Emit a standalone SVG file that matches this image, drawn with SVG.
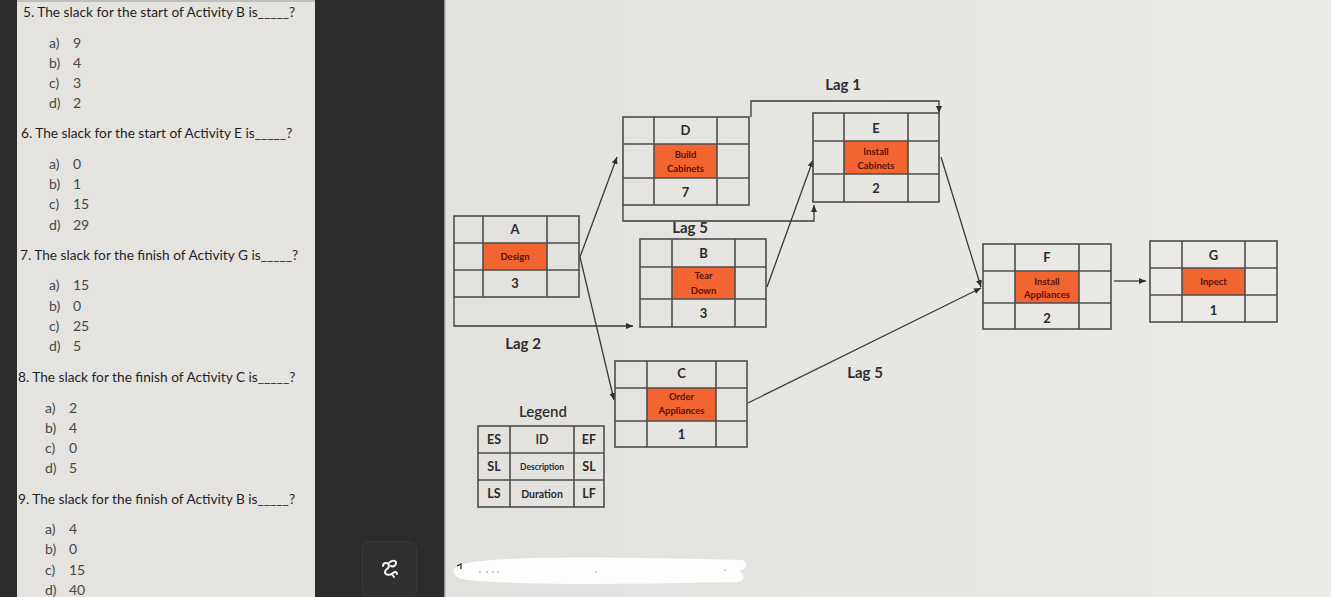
<svg xmlns="http://www.w3.org/2000/svg" width="1331" height="597" viewBox="0 0 1331 597">
<defs>
<linearGradient id="bgR" x1="0" y1="0" x2="1" y2="0">
<stop offset="0" stop-color="#e2e1dd"/>
<stop offset="1" stop-color="#ecebe8"/>
</linearGradient>
<marker id="ah" markerWidth="8" markerHeight="8" refX="7" refY="4" orient="auto" markerUnits="userSpaceOnUse">
<path d="M0,1 L7,4 L0,7 Z" fill="#2e2e2e"/>
</marker>
<style>
.q{font-family:Lato,"Liberation Sans",sans-serif;font-size:13.7px;fill:#1f1f1f}
.o{font-family:Lato,"Liberation Sans",sans-serif;font-size:14px;fill:#474747}
.box{fill:none;stroke:#4d4d4d;stroke-width:1.6}
.grid{fill:none;stroke:#4d4d4d;stroke-width:1.6}
.hl{fill:#f26430}
.id{font-family:Lato,"Liberation Sans",sans-serif;font-size:13px;font-weight:bold;fill:#2a2a2a;text-anchor:middle}
.desc{font-family:Lato,"Liberation Sans",sans-serif;font-size:9.5px;font-weight:bold;fill:#5a1208;text-anchor:middle}
.lag{font-family:Lato,"Liberation Sans",sans-serif;font-size:15px;font-weight:bold;fill:#2f2f2f;text-anchor:middle}
.lg{font-family:Lato,"Liberation Sans",sans-serif;font-size:12.5px;font-weight:bold;fill:#2a2a2a;text-anchor:middle}
.conn{fill:none;stroke:#3a3a3a;stroke-width:1.3}
</style>
</defs>

<!-- backgrounds -->
<rect x="0" y="0" width="1331" height="597" fill="#2b2c2b"/>
<rect x="17" y="0" width="298" height="597" fill="#e4e3df"/>
<line x1="17" y1="1" x2="315" y2="1" stroke="#9a9a98" stroke-width="1"/>
<rect x="445" y="0" width="886" height="597" fill="url(#bgR)"/>
<line x1="445" y1="0" x2="445" y2="597" stroke="#b9b8b4" stroke-width="1.5"/>

<!-- left question panel -->
<g id="questions">
<text class="q" x="23" y="17">5. The slack for the start of Activity B is_____?</text>
<text class="o" y="48"><tspan x="49">a)</tspan><tspan x="73">9</tspan></text>
<text class="o" y="68"><tspan x="49">b)</tspan><tspan x="73">4</tspan></text>
<text class="o" y="88"><tspan x="49">c)</tspan><tspan x="73">3</tspan></text>
<text class="o" y="108"><tspan x="49">d)</tspan><tspan x="73">2</tspan></text>

<text class="q" x="21" y="138">6. The slack for the start of Activity E is_____?</text>
<text class="o" y="169"><tspan x="49">a)</tspan><tspan x="73">0</tspan></text>
<text class="o" y="189"><tspan x="49">b)</tspan><tspan x="73">1</tspan></text>
<text class="o" y="209"><tspan x="49">c)</tspan><tspan x="73">15</tspan></text>
<text class="o" y="230"><tspan x="49">d)</tspan><tspan x="73">29</tspan></text>

<text class="q" x="20" y="260">7. The slack for the finish of Activity G is_____?</text>
<text class="o" y="290"><tspan x="49">a)</tspan><tspan x="73">15</tspan></text>
<text class="o" y="311"><tspan x="49">b)</tspan><tspan x="73">0</tspan></text>
<text class="o" y="331"><tspan x="49">c)</tspan><tspan x="73">25</tspan></text>
<text class="o" y="351"><tspan x="49">d)</tspan><tspan x="73">5</tspan></text>

<text class="q" x="18" y="382">8. The slack for the finish of Activity C is_____?</text>
<text class="o" y="413"><tspan x="45">a)</tspan><tspan x="69">2</tspan></text>
<text class="o" y="433"><tspan x="45">b)</tspan><tspan x="69">4</tspan></text>
<text class="o" y="453"><tspan x="45">c)</tspan><tspan x="69">0</tspan></text>
<text class="o" y="473"><tspan x="45">d)</tspan><tspan x="69">5</tspan></text>

<text class="q" x="18" y="504">9. The slack for the finish of Activity B is_____?</text>
<text class="o" y="534"><tspan x="45">a)</tspan><tspan x="69">4</tspan></text>
<text class="o" y="554"><tspan x="45">b)</tspan><tspan x="69">0</tspan></text>
<text class="o" y="575"><tspan x="45">c)</tspan><tspan x="69">15</tspan></text>
<text class="o" y="595"><tspan x="45">d)</tspan><tspan x="69">40</tspan></text>
</g>

<!-- icon in dark area -->
<g id="icon">
<rect x="362" y="542" width="55" height="54" rx="7" fill="#2f302f" stroke="#3a3b3a"/>
<path d="M383 566 c0-4 6-4 6 0 c0 3-4 3-4 6 c0 3 5 4 8 1 c2-2 4-1 4 1 M389 563 c2-3 7-3 7 0 c0 3-3 4-5 3 M392 574 l2 3" fill="none" stroke="#f2f2f2" stroke-width="2" stroke-linecap="round"/>
</g>

<!-- white smear -->
<g id="smear">
<path d="M458 566 C470 556 600 556 742 560 C749 562 747 569 739 571 C746 575 745 582 735 582 C600 585 500 585 462 579 C452 576 451 569 458 566 Z" fill="#fdfdfd"/>
<path d="M457 566 l4 -2 l0 5" fill="none" stroke="#222" stroke-width="1.2"/>
<g fill="#888"><circle cx="480" cy="572" r="0.8"/><circle cx="487" cy="572" r="0.8"/><circle cx="493" cy="572" r="0.8"/><circle cx="498" cy="572" r="0.8"/><circle cx="596" cy="572" r="0.7"/><circle cx="725" cy="570" r="0.7"/></g>
</g>

<!-- connectors -->
<g id="connectors">
<line class="conn" x1="580" y1="257" x2="617" y2="157" marker-end="url(#ah)"/>
<line class="conn" x1="580" y1="257" x2="614" y2="400" marker-end="url(#ah)"/>
<polyline class="conn" points="454,297 454,326 633,326" marker-end="url(#ah)"/>
<polyline class="conn" points="623,205 623,221 814,221 814,205" marker-end="url(#ah)"/>
<polyline class="conn" points="751,117 751,101 939,101 939,113" marker-end="url(#ah)"/>
<line class="conn" x1="767" y1="287" x2="813" y2="160" marker-end="url(#ah)"/>
<line class="conn" x1="941" y1="157" x2="981" y2="287" marker-end="url(#ah)"/>
<line class="conn" x1="748" y1="403" x2="981" y2="288" marker-end="url(#ah)"/>
<line class="conn" x1="1114" y1="281" x2="1146" y2="281" marker-end="url(#ah)"/>
<text class="lag" x="843" y="90">Lag 1</text>
<text class="lag" x="523" y="349">Lag 2</text>
<text class="lag" x="690" y="233">Lag 5</text>
<text class="lag" x="865" y="378">Lag 5</text>
</g>

<!-- node A -->
<g id="node-A">
<rect class="hl" x="483" y="243" width="64" height="27"/>
<rect class="box" x="454" y="216" width="125" height="81"/>
<path class="grid" d="M483 216V297M547 216V297M454 243H579M454 270H579"/>
<text class="id" x="515" y="234">A</text>
<text class="desc" x="515" y="260">Design</text>
<text class="id" x="515" y="288">3</text>
</g>

<!-- node D -->
<g id="node-D">
<rect class="hl" x="654" y="144" width="63" height="34"/>
<rect class="box" x="623" y="117" width="126" height="88"/>
<path class="grid" d="M654 117V205M717 117V205M623 144H749M623 178H749"/>
<text class="id" x="685.5" y="135">D</text>
<text class="desc" x="685.5" y="157.5">Build</text>
<text class="desc" x="685.5" y="172">Cabinets</text>
<text class="id" x="685.5" y="196.5">7</text>
</g>

<!-- node B -->
<g id="node-B">
<rect class="hl" x="672" y="267" width="63" height="32"/>
<rect class="box" x="640" y="239" width="126" height="88"/>
<path class="grid" d="M672 239V327M735 239V327M640 267H766M640 299H766"/>
<text class="id" x="703.5" y="257.5">B</text>
<text class="desc" x="703.5" y="279">Tear</text>
<text class="desc" x="703.5" y="294">Down</text>
<text class="id" x="703.5" y="317.5">3</text>
</g>

<!-- node C -->
<g id="node-C">
<rect class="hl" x="647" y="388" width="69" height="33"/>
<rect class="box" x="615" y="361" width="132" height="86"/>
<path class="grid" d="M647 361V447M716 361V447M615 388H747M615 421H747"/>
<text class="id" x="681.5" y="378">C</text>
<text class="desc" x="681.5" y="400">Order</text>
<text class="desc" x="681.5" y="413.5">Appliances</text>
<text class="id" x="681.5" y="438.5">1</text>
</g>

<!-- node E -->
<g id="node-E">
<rect class="hl" x="844" y="141" width="64" height="33"/>
<rect class="box" x="813" y="113" width="126" height="89"/>
<path class="grid" d="M844 113V202M908 113V202M813 141H939M813 174H939"/>
<text class="id" x="876" y="132.5">E</text>
<text class="desc" x="876" y="154.5">Install</text>
<text class="desc" x="876" y="168.5">Cabinets</text>
<text class="id" x="876" y="192.5">2</text>
</g>

<!-- node F -->
<g id="node-F">
<rect class="hl" x="1015" y="271" width="64" height="32"/>
<rect class="box" x="983" y="244" width="128" height="85"/>
<path class="grid" d="M1015 244V329M1079 244V329M983 271H1111M983 303H1111"/>
<text class="id" x="1047" y="261.5">F</text>
<text class="desc" x="1047" y="284.5">Install</text>
<text class="desc" x="1047" y="297.5">Appliances</text>
<text class="id" x="1047" y="322.5">2</text>
</g>

<!-- node G -->
<g id="node-G">
<rect class="hl" x="1182" y="268" width="63" height="27"/>
<rect class="box" x="1150" y="241" width="127" height="81"/>
<path class="grid" d="M1182 241V322M1245 241V322M1150 268H1277M1150 295H1277"/>
<text class="id" x="1213.5" y="259.5">G</text>
<text class="desc" x="1213.5" y="285">Inpect</text>
<text class="id" x="1213.5" y="314.5">1</text>
</g>

<!-- legend -->
<g id="legend">
<text class="lag" x="543" y="417" style="font-weight:600">Legend</text>
<rect class="box" x="478" y="426" width="126" height="81"/>
<path class="grid" d="M510 426V507M574 426V507M478 453H604M478 480H604"/>
<text class="lg" x="494" y="444">ES</text>
<text class="lg" x="542" y="444" style="font-weight:600">ID</text>
<text class="lg" x="589" y="444">EF</text>
<text class="lg" x="494" y="471">SL</text>
<text class="desc" x="542" y="470" style="fill:#2a2a2a;font-size:8.5px">Description</text>
<text class="lg" x="589" y="471">SL</text>
<text class="lg" x="494" y="498">LS</text>
<text class="lg" x="542" y="497.5" style="font-size:10.5px">Duration</text>
<text class="lg" x="589" y="498">LF</text>
</g>
</svg>
